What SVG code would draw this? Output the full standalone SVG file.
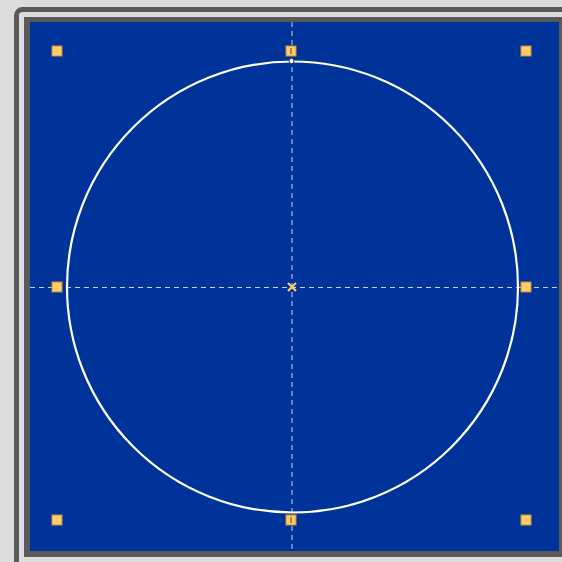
<svg xmlns="http://www.w3.org/2000/svg" width="562" height="562" viewBox="0 0 562 562">
<style>
.h{fill:#ffcc66;stroke:#c09040;stroke-width:1}
.g{stroke:#c8d0e8;stroke-width:1;stroke-dasharray:5 4;fill:none}
</style>
<rect x="0" y="0" width="562" height="562" fill="#dcdcdc"/>
<rect x="16.5" y="9.5" width="570" height="570" rx="6" fill="none" stroke="#5a5a5a" stroke-width="5"/>
<rect x="24" y="17" width="545" height="540" fill="#5a5a5a"/>
<rect x="30" y="22" width="529" height="529" fill="#003399"/>
<g id="guides">
<line class="g" x1="292" y1="22" x2="292" y2="551"/>
<line class="g" x1="30" y1="287.5" x2="559" y2="287.5"/>
</g>
<g id="circle">
<circle cx="292.5" cy="287" r="225.5" fill="none" stroke="#ffffff" stroke-width="2.2"/>
</g>
<g id="handles">
<rect class="h" x="52" y="46" width="10" height="10"/>
<rect class="h" x="286" y="46" width="10" height="10"/>
<rect class="h" x="521" y="46" width="10" height="10"/>
<rect class="h" x="52" y="282" width="10" height="10"/>
<rect class="h" x="521" y="282" width="10" height="10"/>
<rect class="h" x="52" y="515" width="10" height="10"/>
<rect class="h" x="286" y="515" width="10" height="10"/>
<rect class="h" x="521" y="515" width="10" height="10"/>
<line x1="291" y1="48" x2="291" y2="54" stroke="#604020" stroke-width="1"/>
<line x1="291" y1="517" x2="291" y2="523" stroke="#604020" stroke-width="1"/>
</g>
<g id="center">
<path d="M288 283 L296 291 M296 283 L288 291" stroke="#ffcc66" stroke-width="2.2"/>
</g>
<g id="node">
<circle cx="291.5" cy="61" r="2.5" fill="#ffffff" stroke="#404040" stroke-width="1"/>
</g>
</svg>
